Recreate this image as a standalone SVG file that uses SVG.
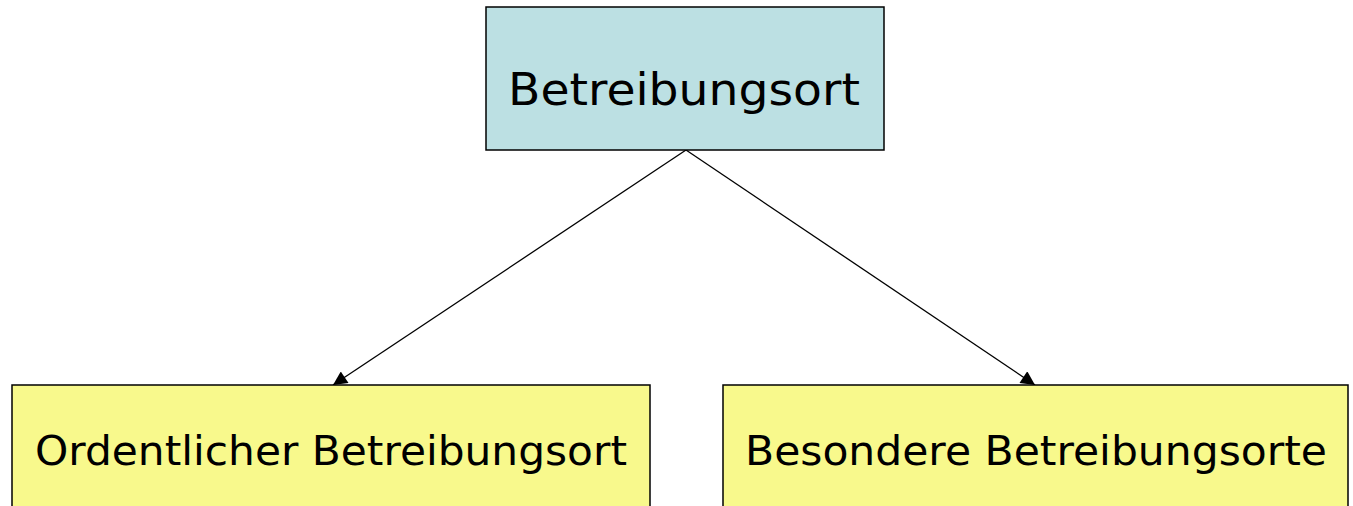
<svg xmlns="http://www.w3.org/2000/svg" width="1353" height="506" viewBox="0 0 1353 506">
<style>
.box{stroke:#000;stroke-width:1.5}
.top{fill:#BCE0E3}
.leaf{fill:#F8F98C}
.lbl{font-family:"DejaVu Sans",Verdana,sans-serif;fill:#000;text-anchor:middle}
.conn{stroke:#000;stroke-width:1.3;fill:none;marker-end:url(#ah)}
</style>
<defs>
<marker id="ah" viewBox="0 0 10 10" refX="10" refY="5" markerWidth="17" markerHeight="14" markerUnits="userSpaceOnUse" orient="auto">
<path d="M0,0 L10,5 L0,10 Z" fill="#000"/>
</marker>
</defs>
<rect width="1353" height="506" fill="#fff"/>
<g id="connectors">
<line class="conn" x1="686" y1="150" x2="333" y2="385"/>
<line class="conn" x1="686" y1="150" x2="1035" y2="385"/>
</g>
<g id="node-root">
<rect class="box top" x="486" y="7" width="398" height="143"/>
<text class="lbl" x="684" y="105" font-size="45" textLength="352" lengthAdjust="spacingAndGlyphs">Betreibungsort</text>
</g>
<g id="node-ordentlich">
<rect class="box leaf" x="12" y="385" width="638" height="130"/>
<text class="lbl" x="331" y="465" font-size="40" textLength="592" lengthAdjust="spacingAndGlyphs">Ordentlicher Betreibungsort</text>
</g>
<g id="node-besondere">
<rect class="box leaf" x="723" y="385" width="625" height="130"/>
<text class="lbl" x="1036" y="465" font-size="40" textLength="582" lengthAdjust="spacingAndGlyphs">Besondere Betreibungsorte</text>
</g>
</svg>
